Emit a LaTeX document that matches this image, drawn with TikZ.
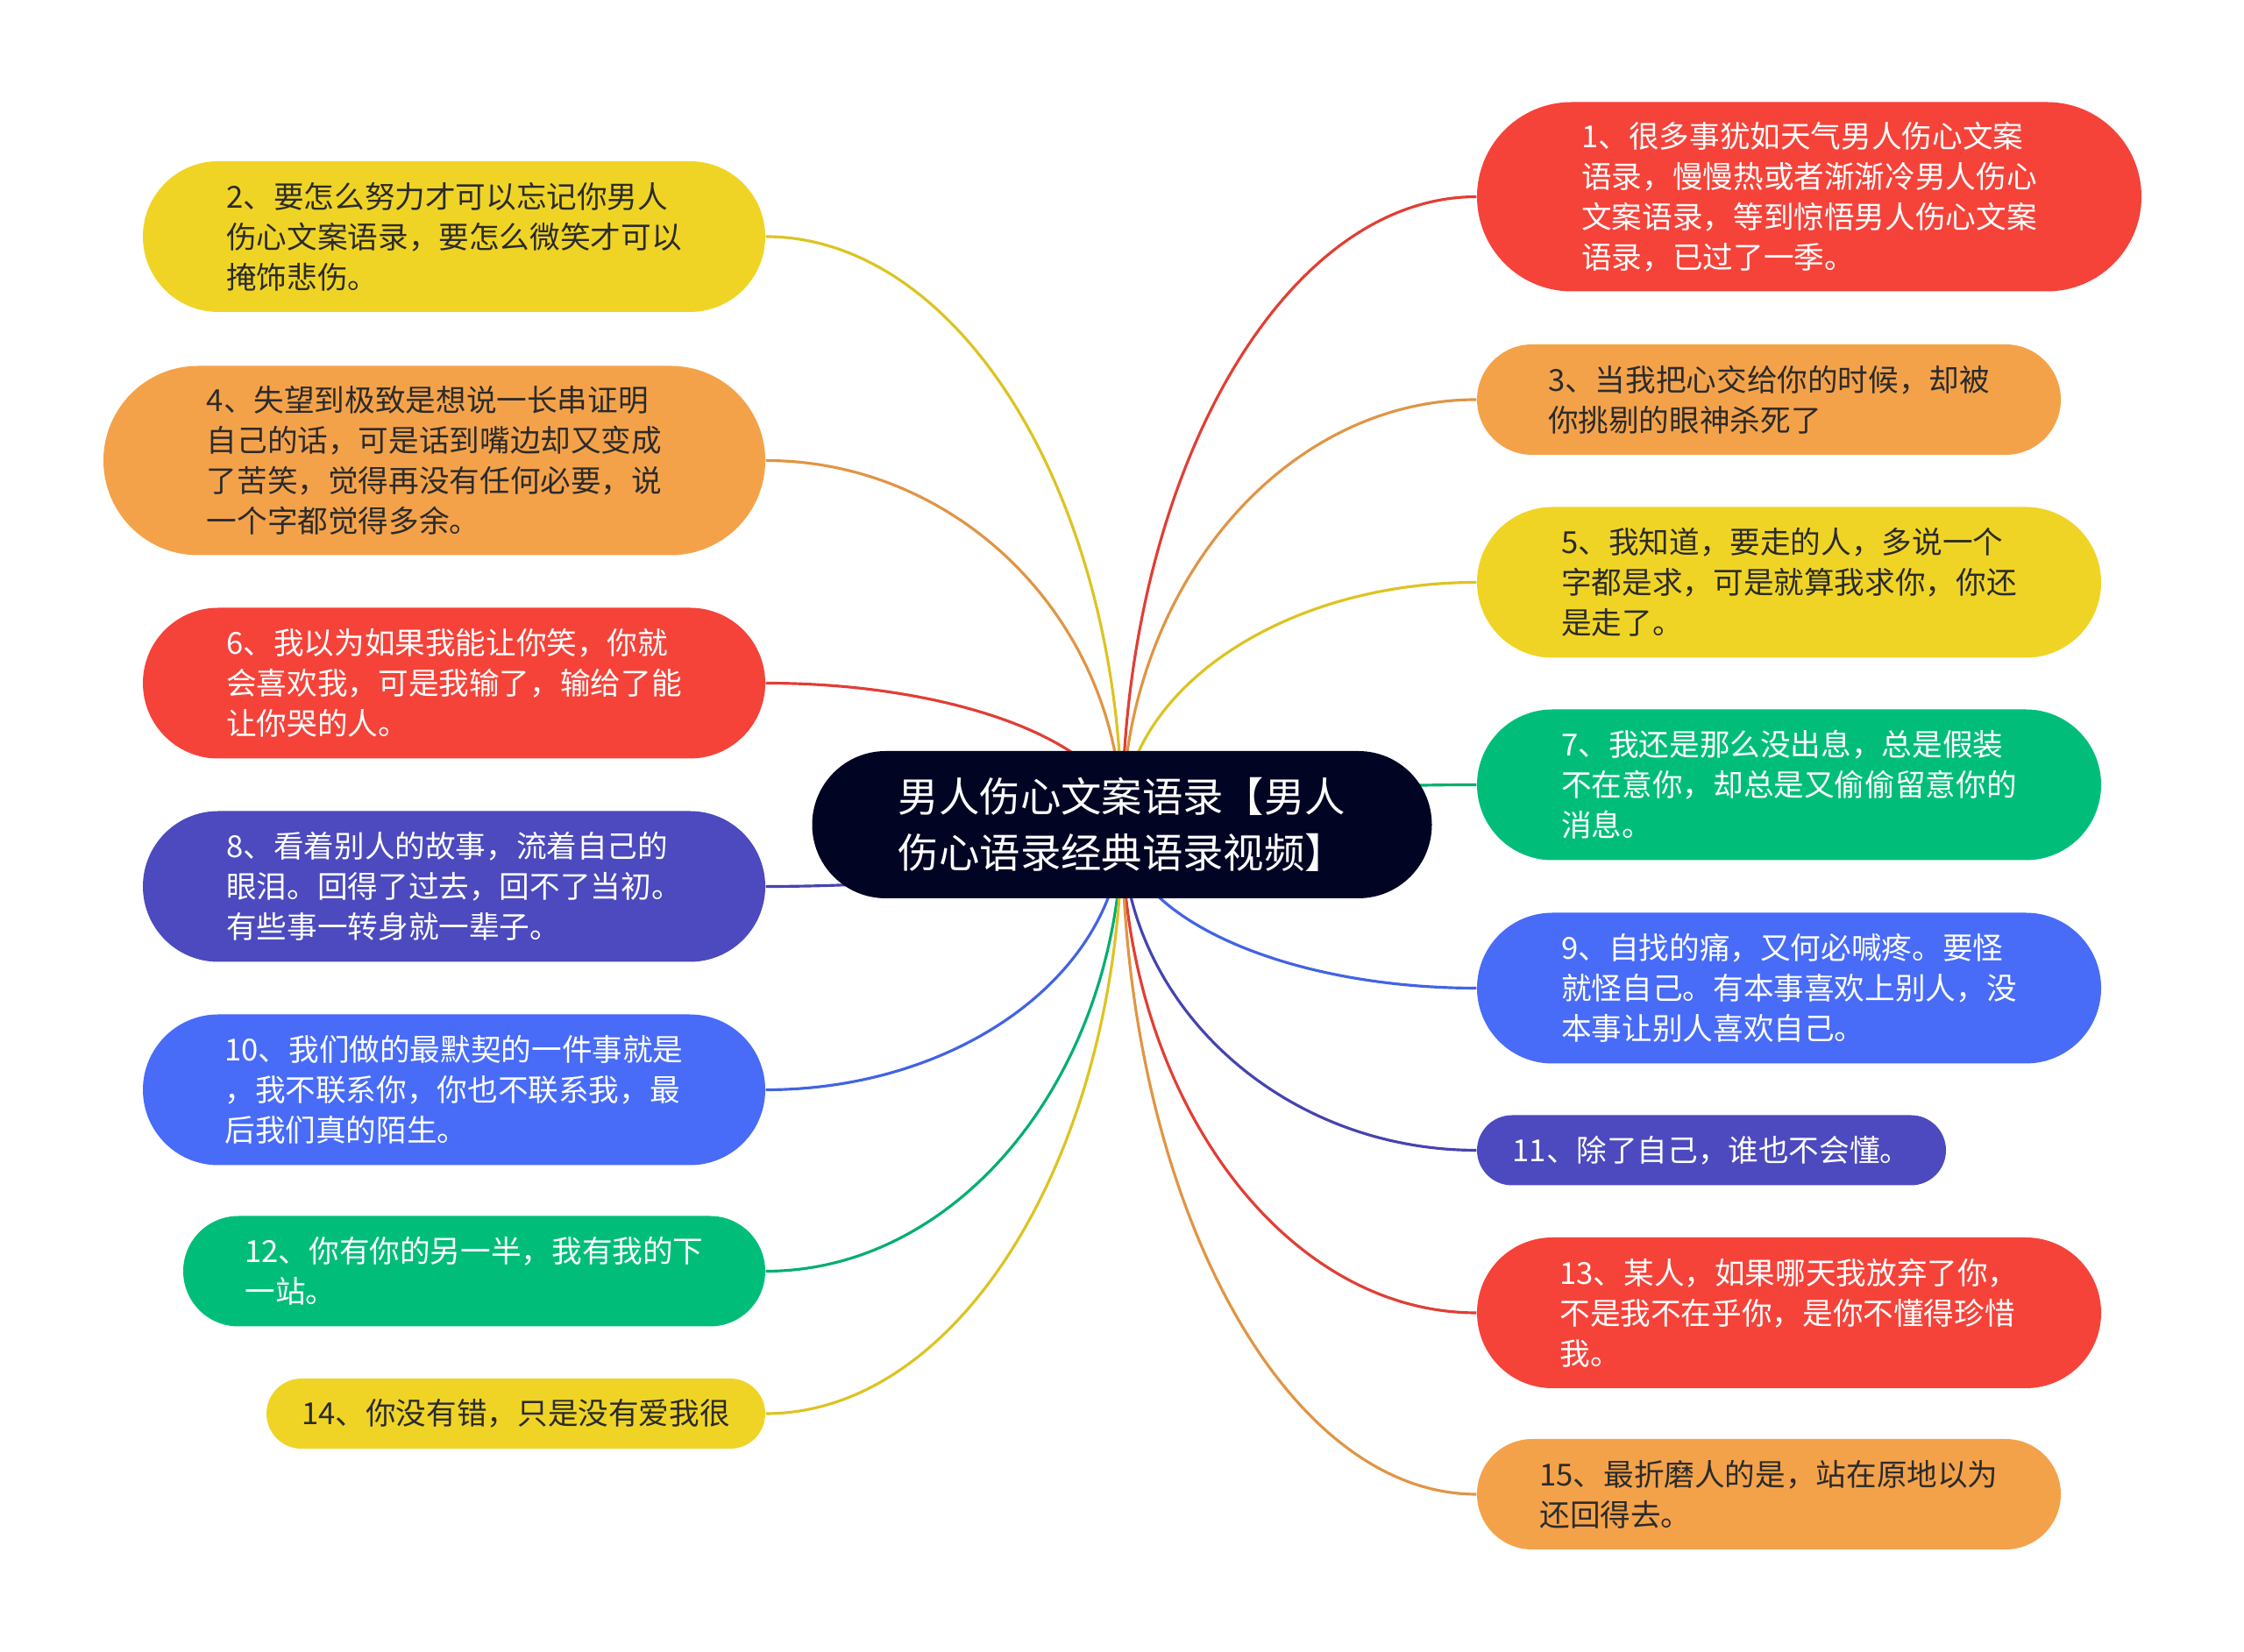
\documentclass[tikz,border=0pt]{standalone}
\usepackage{fontspec}
\setmainfont{Noto Sans CJK SC}
\usetikzlibrary{calc,shapes.misc,backgrounds}

\definecolor{cred}{HTML}{F5433A}
\definecolor{corange}{HTML}{F4A24A}
\definecolor{cyellow}{HTML}{F0D425}
\definecolor{cgreen}{HTML}{00BE7A}
\definecolor{cblue}{HTML}{486CF8}
\definecolor{cindigo}{HTML}{4C4ABE}
\definecolor{cnavy}{HTML}{020424}
\definecolor{txtdark}{HTML}{2B2B2B}

\begin{document}
\begin{tikzpicture}[font=\small]
\tikzstyle{topic}=[rounded rectangle,align=left,inner xsep=0pt,inner ysep=0pt,text=white,font={\fontsize{9.85}{13.1}\selectfont}]
\tikzstyle{dk}=[text=txtdark]
\tikzstyle{l1}=[minimum height=0.80cm]
\tikzstyle{l2}=[minimum height=1.26cm]
\tikzstyle{l3}=[minimum height=1.72cm]
\tikzstyle{l4}=[minimum height=2.16cm]
\tikzstyle{branch}=[line width=0.9pt]
\useasboundingbox (0,0) rectangle (25.6,18.85);
% centre
\node[rectangle,rounded corners=0.84cm,fill=cnavy,text=white,align=left,minimum width=7.07cm,minimum height=1.68cm,font={\fontsize{13.2}{18.2}\selectfont}] (c) at (12.80,9.44) {男人伤心文案语录【男人\\伤心语录经典语录视频】};
% left side
\node[topic,dk,l3,fill=cyellow,minimum width=7.10cm] (n2) at (5.18,16.15) {2、要怎么努力才可以忘记你男人\\伤心文案语录，要怎么微笑才可以\\掩饰悲伤。};
\node[topic,dk,l4,fill=corange,minimum width=7.55cm] (n4) at (4.955,13.595) {4、失望到极致是想说一长串证明\\自己的话，可是话到嘴边却又变成\\了苦笑，觉得再没有任何必要，说\\一个字都觉得多余。};
\node[topic,l3,fill=cred,minimum width=7.10cm] (n6) at (5.18,11.055) {6、我以为如果我能让你笑，你就\\会喜欢我，可是我输了，输给了能\\让你哭的人。};
\node[topic,l3,fill=cindigo,minimum width=7.10cm] (n8) at (5.18,8.735) {8、看着别人的故事，流着自己的\\眼泪。回得了过去，回不了当初。\\有些事一转身就一辈子。};
\node[topic,l3,fill=cblue,minimum width=7.10cm] (n10) at (5.18,6.415) {10、我们做的最默契的一件事就是\\，我不联系你，你也不联系我，最\\后我们真的陌生。};
\node[topic,l2,fill=cgreen,minimum width=6.64cm] (n12) at (5.41,4.345) {12、你有你的另一半，我有我的下\\一站。};
\node[topic,dk,l1,fill=cyellow,minimum width=5.69cm] (n14) at (5.885,2.72) {14、你没有错，只是没有爱我很};
% right side
\node[topic,l4,fill=cred,minimum width=7.58cm] (n1) at (20.64,16.605) {1、很多事犹如天气男人伤心文案\\语录，慢慢热或者渐渐冷男人伤心\\文案语录，等到惊悟男人伤心文案\\语录，已过了一季。};
\node[topic,dk,l2,fill=corange,minimum width=6.66cm] (n3) at (20.18,14.29) {3、当我把心交给你的时候，却被\\你挑剔的眼神杀死了};
\node[topic,dk,l3,fill=cyellow,minimum width=7.12cm] (n5) at (20.41,12.205) {5、我知道，要走的人，多说一个\\字都是求，可是就算我求你，你还\\是走了。};
\node[topic,l3,fill=cgreen,minimum width=7.12cm] (n7) at (20.41,9.895) {7、我还是那么没出息，总是假装\\不在意你，却总是又偷偷留意你的\\消息。};
\node[topic,l3,fill=cblue,minimum width=7.12cm] (n9) at (20.41,7.575) {9、自找的痛，又何必喊疼。要怪\\就怪自己。有本事喜欢上别人，没\\本事让别人喜欢自己。};
\node[topic,l1,fill=cindigo,minimum width=5.35cm] (n11) at (19.525,5.725) {11、除了自己，谁也不会懂。};
\node[topic,l3,fill=cred,minimum width=7.12cm] (n13) at (20.41,3.87) {13、某人，如果哪天我放弃了你，\\不是我不在乎你，是你不懂得珍惜\\我。};
\node[topic,dk,l2,fill=corange,minimum width=6.66cm] (n15) at (20.18,1.80) {15、最折磨人的是，站在原地以为\\还回得去。};
% branches
\begin{scope}[on background layer]
\foreach \n/\a/\col in {n2/east/cyellow,n4/east/corange,n6/east/cred,n8/east/cindigo,n10/east/cblue,n12/east/cgreen,n14/east/cyellow,
  n1/west/cred,n3/west/corange,n5/west/cyellow,n7/west/cgreen,n9/west/cblue,n11/west/cindigo,n13/west/cred,n15/west/corange}
  \draw[branch,\col!92!black] (c.center) .. controls ($(c.center)!0.55!(c.center |- \n.\a)$) and ($(\n.\a)!0.55!(c.center |- \n.\a)$) .. (\n.\a);
\end{scope}
\end{tikzpicture}
\end{document}
